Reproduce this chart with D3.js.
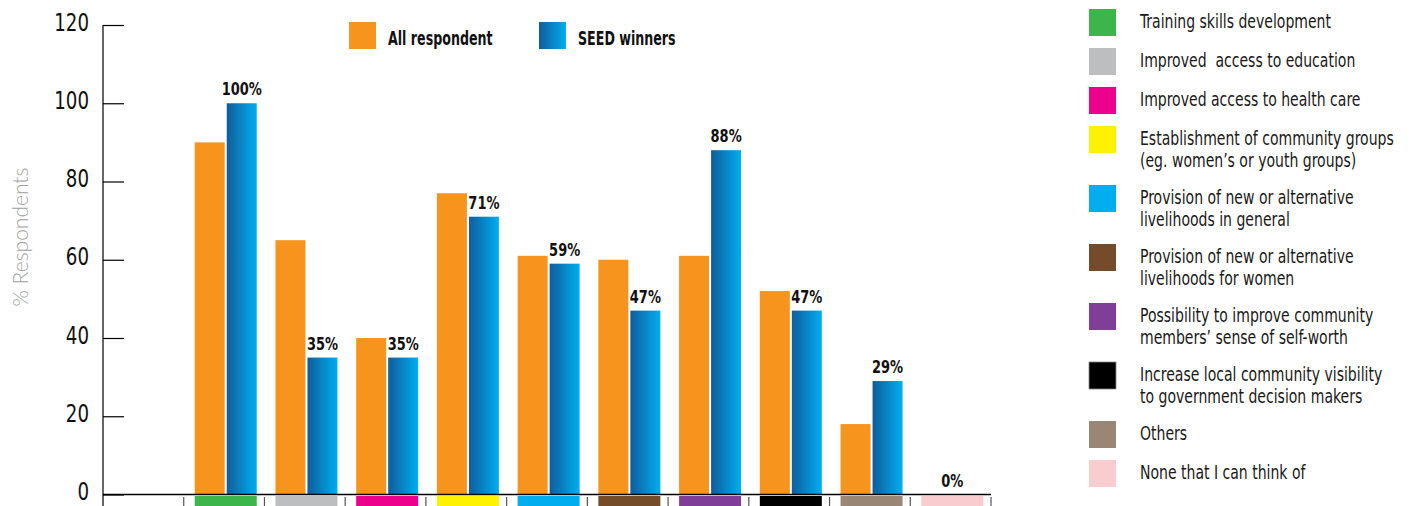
<!DOCTYPE html>
<html>
<head>
<meta charset="utf-8">
<script src="https://cdn.jsdelivr.net/npm/d3@7"></script>
<style>
  html, body { margin: 0; padding: 0; background: #fff; }
  svg { display: block; }
  .cond { font-family: "DejaVu Sans Condensed", "DejaVu Sans", sans-serif; font-stretch: condensed; }
</style>
</head>
<body>
<svg id="chart" width="1413" height="506"></svg>
<script>
// Benefits reported by respondents, per category
const categories = [
  "Training skills development",
  "Improved  access to education",
  "Improved access to health care",
  "Establishment of community groups\n(eg. women’s or youth groups)",
  "Provision of new or alternative\nlivelihoods in general",
  "Provision of new or alternative\nlivelihoods for women",
  "Possibility to improve community\nmembers’ sense of self-worth",
  "Increase local community visibility\nto government decision makers",
  "Others",
  "None that I can think of"
];
const categoryColors = ["#3cb54a", "#bcbec0", "#ec008c", "#fff200", "#00aeef",
                        "#754c29", "#7f3f98", "#000000", "#998675", "#f9ccd0"];
const allRespondents = [90, 65, 40, 77, 61, 60, 61, 52, 18, 0];
const seedWinners = [100, 35, 35, 71, 59, 47, 88, 47, 29, 0];
const seriesNames = ["All respondent", "SEED winners"];
const yTicks = [0, 20, 40, 60, 80, 100, 120];

(function () {
const svg = d3.select("#chart");
const W = 1413, H = 506;

// Gradient used for the SEED winners bars
const defs = svg.append("defs");
const grad = defs.append("linearGradient").attr("id", "seedGrad")
  .attr("x1", "0%").attr("x2", "100%").attr("y1", "0%").attr("y2", "0%");
grad.append("stop").attr("offset", "0%").attr("stop-color", "#105d9c");
grad.append("stop").attr("offset", "100%").attr("stop-color", "#00aeef");

const seriesFill = ["#f7941d", "url(#seedGrad)"];

// Scales: one empty slot on the left, then one slot per category
const slots = ["_blank", ...categories];
const x0 = d3.scaleBand().domain(slots).range([103, 991]).paddingInner(0).paddingOuter(0);
const x1 = d3.scaleBand().domain(seriesNames).range([11, 73]).paddingInner(0.0625).paddingOuter(0);
const y = d3.scaleLinear().domain([0, 120]).range([494.5, 25]);

// Y axis (narrowed glyphs for a condensed look)
const yAxis = d3.axisRight(y).tickValues(yTicks).tickSize(21).tickFormat(d => d);
const gy = svg.append("g").attr("transform", "translate(103,0)").call(yAxis);
gy.select(".domain").remove();
gy.selectAll(".tick line").attr("stroke", "#000").attr("stroke-width", 1.2);
gy.selectAll(".tick text")
  .attr("x", 0).attr("dy", "0.2em").attr("text-anchor", "end")
  .attr("transform", "translate(-14,0) scale(0.81,1)")
  .attr("class", "cond").attr("font-size", 25).attr("fill", "#111");
svg.append("line").attr("x1", 103).attr("x2", 103).attr("y1", y(120)).attr("y2", H)
  .attr("stroke", "#000").attr("stroke-width", 1.2);

// Y axis title
svg.append("text")
  .attr("transform", `translate(28,${237}) rotate(-90)`)
  .attr("text-anchor", "middle")
  .attr("font-family", "Lato, 'Open Sans', sans-serif").attr("font-weight", 300)
  .attr("font-size", 21).attr("fill", "#a0a0a0")
  .text("% Respondents");

// Bars
const rows = categories.map((c, i) => ({ cat: c, vals: [allRespondents[i], seedWinners[i]], color: categoryColors[i] }));
const groups = svg.append("g").selectAll("g").data(rows).join("g")
  .attr("transform", d => `translate(${x0(d.cat)},0)`);
groups.selectAll("rect.bar").data(d => d.vals.map((v, j) => ({ v, s: seriesNames[j], j })))
  .join("rect").attr("class", "bar")
  .attr("x", d => x1(d.s)).attr("width", x1.bandwidth())
  .attr("y", d => y(d.v)).attr("height", d => y(0) - y(d.v))
  .attr("fill", d => seriesFill[d.j]);

// Category colour strips under the baseline
groups.append("rect")
  .attr("x", x1.range()[0]).attr("width", x1.range()[1] - x1.range()[0])
  .attr("y", 496).attr("height", H - 496)
  .attr("fill", d => d.color);

// Value labels over the SEED winners bars
groups.append("text")
  .attr("class", "cond")
  .attr("transform", d => {
    const cx = d.vals[1] === 0
      ? (x1.range()[0] + x1.range()[1]) / 2
      : x1(seriesNames[1]) + x1.bandwidth() / 2;
    return `translate(${cx},${y(d.vals[1]) - 8}) scale(0.85,1)`;
  })
  .attr("text-anchor", "middle").attr("font-weight", "bold").attr("font-size", 17)
  .attr("fill", "#111")
  .text(d => d.vals[1] + "%");

// Baseline and slot separators
svg.append("line").attr("x1", 103).attr("x2", 991).attr("y1", y(0)).attr("y2", y(0))
  .attr("stroke", "#000").attr("stroke-width", 1.6);
svg.append("g").selectAll("line").data(slots.slice(1).map(s => x0(s)).concat([x0.range()[1]]))
  .join("line")
  .attr("x1", d => d).attr("x2", d => d).attr("y1", 497).attr("y2", H)
  .attr("stroke", "#555").attr("stroke-width", 1.2);

// Series legend
const sl = svg.append("g");
const slX = [349, 539];
seriesNames.forEach((n, i) => {
  sl.append("rect").attr("x", slX[i]).attr("y", 22).attr("width", 27).attr("height", 27)
    .attr("fill", seriesFill[i]);
  sl.append("text").attr("class", "cond")
    .attr("transform", `translate(${slX[i] + 39},45) scale(0.74,1)`)
    .attr("font-weight", "bold").attr("font-size", 19).attr("fill", "#111").text(n);
});

// Category legend
const legTops = [];
let rowTop = 9;
categories.forEach(c => {
  legTops.push(rowTop);
  rowTop += c.includes("\n") ? 59 : 39;
});
const cl = svg.append("g").selectAll("g").data(rows).join("g")
  .attr("transform", (d, i) => `translate(1089,${legTops[i]})`);
cl.append("rect").attr("width", 27).attr("height", 27).attr("fill", d => d.color)
  .attr("stroke", d => d.color === "#000000" ? "#888" : "none").attr("stroke-width", 0.8);
cl.append("text").attr("class", "cond").attr("font-size", 20).attr("fill", "#1a1a1a")
  .attr("transform", "translate(51,19) scale(0.78,1)")
  .selectAll("tspan").data(d => d.cat.split("\n")).join("tspan")
  .attr("x", 0).attr("dy", (d, i) => i === 0 ? 0 : 22)
  .attr("xml:space", "preserve")
  .text(d => d);
})();
</script>
</body>
</html>
